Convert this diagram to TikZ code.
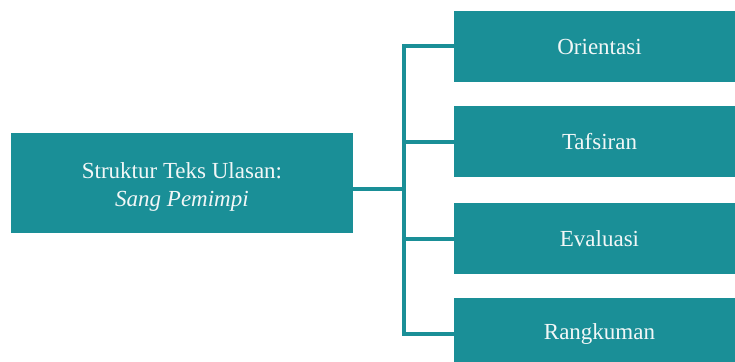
\documentclass[tikz,border=0pt]{standalone}
\usepackage{fontspec}
\setmainfont{Liberation Serif}
\definecolor{teal1}{HTML}{1A8F97}
\definecolor{txt}{HTML}{F2F7F7}
\begin{document}
\begin{tikzpicture}[x=1pt,y=-1pt,
  box/.style={fill=teal1,draw=none,text=txt,inner sep=0pt,font=\fontsize{23}{27.5}\selectfont,align=center},
  rbox/.style={box,minimum width=291pt,minimum height=71pt},
  lbl/.style={text=txt,inner sep=0pt,font=\fontsize{23}{27.5}\selectfont,align=center},
  conn/.style={draw=teal1,line width=4pt,line join=miter}]
\clip (0,0) rectangle (735,361);
\node[box,minimum width=342pt,minimum height=100pt] (L) at (182,183) {};
\node[lbl] (Lt) at (182,187) {Struktur Teks Ulasan:\\\textit{Sang Pemimpi}};
\node[rbox] (o) at (599.5,46.5) {Orientasi};
\node[rbox] (t) at (599.5,141.5) {Tafsiran};
\node[rbox] (e) at (599.5,238.5) {Evaluasi};
\node[rbox] (r) at (599.5,333.5) {Rangkuman};
\coordinate (j) at (404,189);
\draw[conn] (o.west) -- (o.west -| j) -- (r.west -| j) -- (r.west);
\draw[conn] (t.west) -- (t.west -| j);
\draw[conn] (e.west) -- (e.west -| j);
\draw[conn] (L.east |- j) -- (j);
\end{tikzpicture}
\end{document}
